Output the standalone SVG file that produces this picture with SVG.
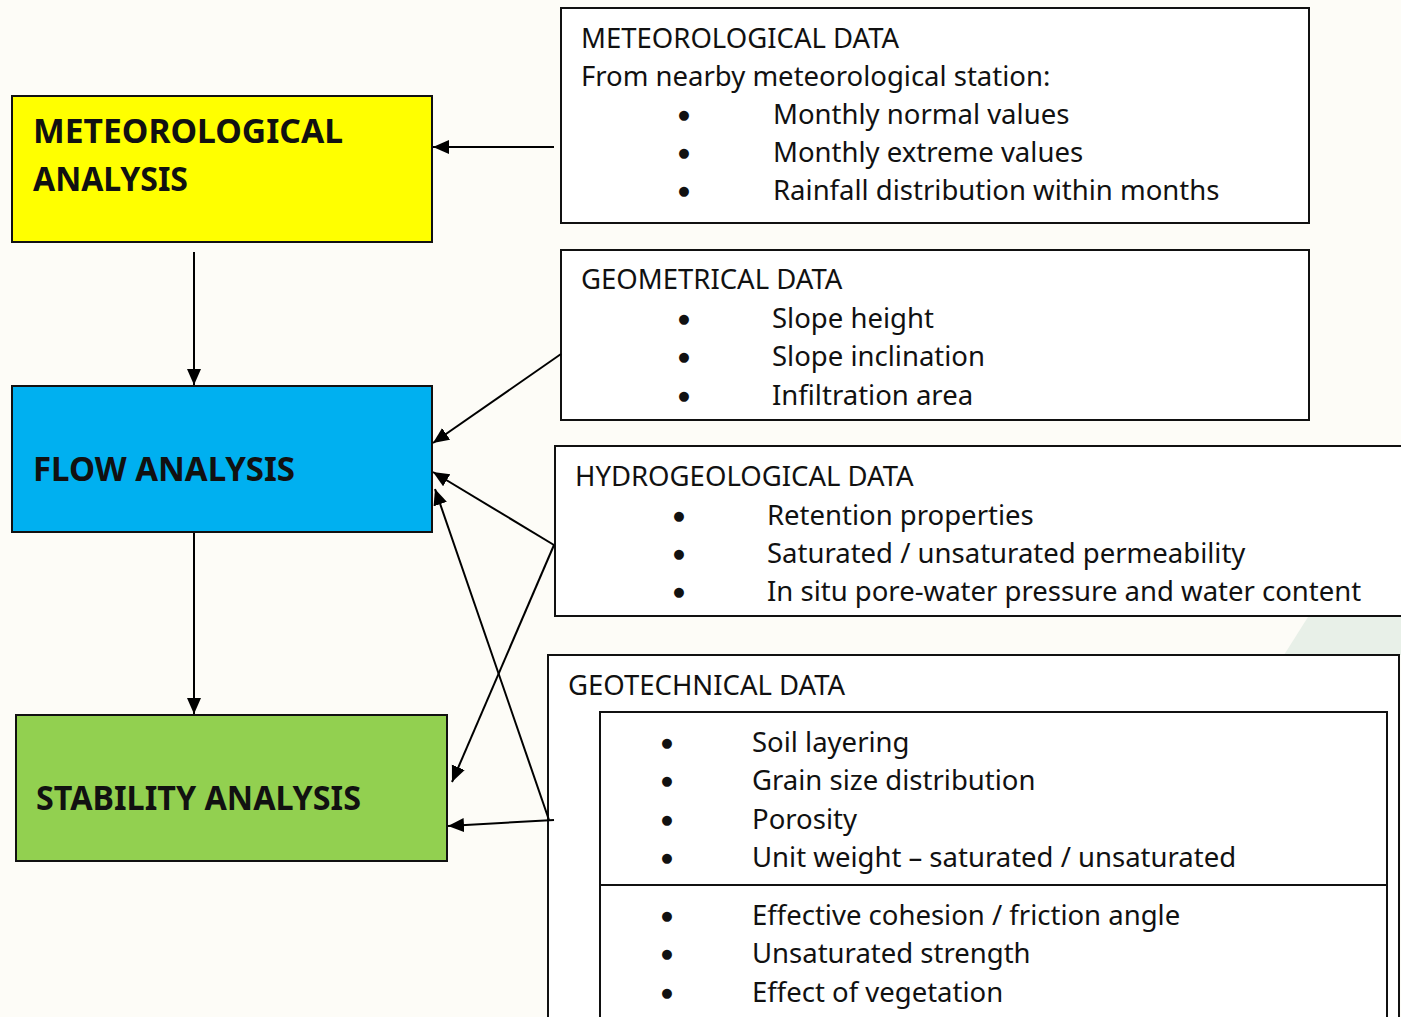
<svg xmlns="http://www.w3.org/2000/svg" width="1401" height="1017" viewBox="0 0 1401 1017">
<style>
.box{fill:#ffffff;stroke:#111;stroke-width:2}
.an{stroke:#111;stroke-width:2}
.t{font-family:"Noto Sans","Open Sans",sans-serif;font-size:27.5px;fill:#111}
.d{font-family:"DejaVu Sans",sans-serif;font-size:13px;fill:#111;text-anchor:middle}
.b{font-family:"Noto Sans","Open Sans",sans-serif;font-size:34px;font-weight:bold;fill:#111}
.c{fill:none;stroke:#000;stroke-width:2;marker-end:url(#ah)}
</style>
<defs>
<marker id="ah" markerUnits="userSpaceOnUse" markerWidth="18" markerHeight="16" refX="16" refY="7" orient="auto">
<path d="M0,0 L16,7 L0,14 Z" fill="#000"/>
</marker>
</defs>
<rect x="0" y="0" width="1401" height="1017" fill="#FDFCF7"/>
<polygon points="1308,617 1401,617 1401,655 1284,655" fill="#E8F0E8"/>

<g id="met-analysis">
<rect x="12" y="96" width="420" height="146" fill="#FFFF00" class="an"/>
<text class="b" x="33" y="143" textLength="310" lengthAdjust="spacingAndGlyphs">METEOROLOGICAL</text>
<text class="b" x="33" y="191" textLength="155" lengthAdjust="spacingAndGlyphs">ANALYSIS</text>
</g>
<g id="flow-analysis">
<rect x="12" y="386" width="420" height="146" fill="#00B0F0" class="an"/>
<text class="b" x="33" y="481" textLength="262" lengthAdjust="spacingAndGlyphs">FLOW ANALYSIS</text>
</g>
<g id="stability-analysis">
<rect x="16" y="715" width="431" height="146" fill="#92D050" class="an"/>
<text class="b" x="36" y="810" textLength="325" lengthAdjust="spacingAndGlyphs">STABILITY ANALYSIS</text>
</g>

<g id="met-data">
<rect x="561" y="8" width="748" height="215" class="box"/>
<text class="t" x="581" y="48">METEOROLOGICAL DATA</text>
<text class="t" x="581" y="86">From nearby meteorological station:</text>
<text class="d" x="684" y="119">●</text><text class="t" x="773" y="124">Monthly normal values</text>
<text class="d" x="684" y="157">●</text><text class="t" x="773" y="162">Monthly extreme values</text>
<text class="d" x="684" y="195">●</text><text class="t" x="773" y="200">Rainfall distribution within months</text>
</g>
<g id="geom-data">
<rect x="561" y="250" width="748" height="170" class="box"/>
<text class="t" x="581" y="289">GEOMETRICAL DATA</text>
<text class="d" x="684" y="323">●</text><text class="t" x="772" y="328">Slope height</text>
<text class="d" x="684" y="361">●</text><text class="t" x="772" y="366">Slope inclination</text>
<text class="d" x="684" y="400">●</text><text class="t" x="772" y="405">Infiltration area</text>
</g>
<g id="hydro-data">
<rect x="555" y="446" width="860" height="170" class="box"/>
<text class="t" x="575" y="486">HYDROGEOLOGICAL DATA</text>
<text class="d" x="679" y="520">●</text><text class="t" x="767" y="525">Retention properties</text>
<text class="d" x="679" y="558">●</text><text class="t" x="767" y="563">Saturated / unsaturated permeability</text>
<text class="d" x="679" y="596">●</text><text class="t" x="767" y="601">In situ pore-water pressure and water content</text>
</g>
<g id="geotech-data">
<rect x="548" y="655" width="851" height="380" class="box"/>
<text class="t" x="568" y="695">GEOTECHNICAL DATA</text>
<rect x="600" y="712" width="787" height="330" class="box"/>
<line x1="600" y1="885" x2="1387" y2="885" stroke="#111" stroke-width="2"/>
<text class="d" x="667" y="747">●</text><text class="t" x="752" y="752">Soil layering</text>
<text class="d" x="667" y="785">●</text><text class="t" x="752" y="790">Grain size distribution</text>
<text class="d" x="667" y="824">●</text><text class="t" x="752" y="829">Porosity</text>
<text class="d" x="667" y="862">●</text><text class="t" x="752" y="867">Unit weight – saturated / unsaturated</text>
<text class="d" x="667" y="920">●</text><text class="t" x="752" y="925">Effective cohesion / friction angle</text>
<text class="d" x="667" y="958">●</text><text class="t" x="752" y="963">Unsaturated strength</text>
<text class="d" x="667" y="997">●</text><text class="t" x="752" y="1002">Effect of vegetation</text>
</g>

<g id="connectors">
<line class="c" x1="554" y1="147" x2="433" y2="147"/>
<line class="c" x1="194" y1="252" x2="194" y2="385"/>
<line class="c" x1="194" y1="533" x2="194" y2="714"/>
<line class="c" x1="561" y1="354" x2="433" y2="443"/>
<line class="c" x1="554" y1="545" x2="433" y2="472"/>
<line class="c" x1="554" y1="545" x2="452" y2="782"/>
<line class="c" x1="549" y1="820" x2="435" y2="489"/>
<line class="c" x1="554" y1="820" x2="448" y2="826"/>
</g>
</svg>
